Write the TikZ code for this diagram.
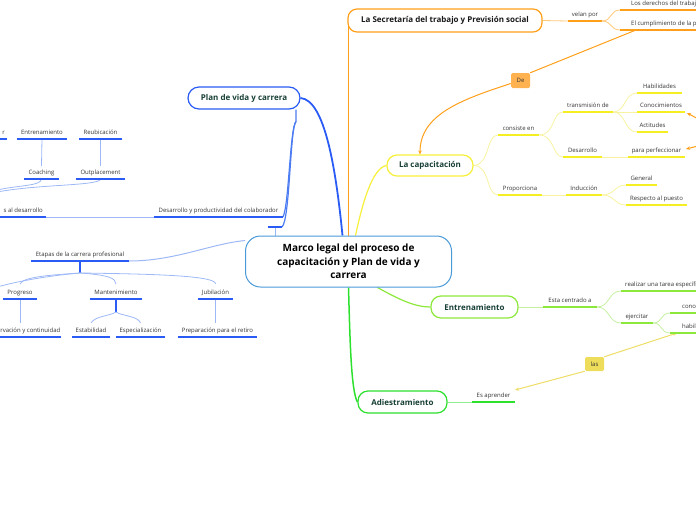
\documentclass[tikz,border=0pt]{standalone}
\usepackage{fontspec}
\setmainfont{Open Sans}
\usetikzlibrary{arrows.meta,calc}
\pgfdeclarelayer{bg}
\pgfsetlayers{bg,main}
\definecolor{blueA}{HTML}{2A5CF5}
\definecolor{blueM}{HTML}{4C7CF2}
\definecolor{blueL}{HTML}{9DB8F6}
\definecolor{cBorder}{HTML}{4A9AD8}
\definecolor{orA}{HTML}{FF9F1A}
\definecolor{orL}{HTML}{FFC978}
\definecolor{orFill}{HTML}{FFB24F}
\definecolor{yeA}{HTML}{F4EE22}
\definecolor{yeB}{HTML}{F6F03A}
\definecolor{yeL}{HTML}{F7F3A0}
\definecolor{yeFill}{HTML}{EEDD5A}
\definecolor{yeArr}{HTML}{EEDD66}
\definecolor{grE}{HTML}{8DE83C}
\definecolor{grEL}{HTML}{C5F0A0}
\definecolor{grA}{HTML}{2EE02E}
\definecolor{grAL}{HTML}{90EE90}
\definecolor{nodeTxt}{HTML}{173F35}
\definecolor{leafTxt}{HTML}{333333}
% centred leaf: name, x1, x2, y, text, colour
\newcommand\leaf[6]{%
  \coordinate (#1-l) at (#2,#4);
  \coordinate (#1-r) at (#3,#4);
  \coordinate (#1-c) at ({(#2+#3)/2},#4);
  \draw[ul,#6] (#1-l) -- (#1-r);
  \node[lt,anchor=base] (#1) at ({(#2+#3)/2},{#4-4.3}) {#5};}
% left aligned leaf (text starts at #7)
\newcommand\leafw[7]{%
  \coordinate (#1-l) at (#2,#4);
  \coordinate (#1-r) at (#3,#4);
  \coordinate (#1-c) at ({(#2+#3)/2},#4);
  \draw[ul,#6] (#1-l) -- (#1-r);
  \node[lt,anchor=base west] (#1) at (#7,{#4-4.3}) {#5};}
% right aligned leaf (text ends at #7)
\newcommand\leafe[7]{%
  \coordinate (#1-l) at (#2,#4);
  \coordinate (#1-r) at (#3,#4);
  \coordinate (#1-c) at ({(#2+#3)/2},#4);
  \draw[ul,#6] (#1-l) -- (#1-r);
  \node[lt,anchor=base east] (#1) at (#7,{#4-4.3}) {#5};}
\begin{document}
\begin{tikzpicture}[x=1pt,y=-1pt,
  lt/.style={font=\fontsize{6}{7}\selectfont,text=leafTxt,inner sep=0pt},
  ul/.style={line width=1.6pt},
  cn/.style={line width=0.8pt},
  topic/.style={draw,fill=white,rounded corners=10pt,line width=1.2pt,text=nodeTxt,
    font=\bfseries\fontsize{8}{9.5}\selectfont,inner sep=0pt},
  tag/.style={rounded corners=1.5pt,inner sep=0pt,font=\fontsize{6}{7}\selectfont,text=leafTxt},
  tip/.style={-{Stealth[length=4pt,width=3.5pt]}}
]
\useasboundingbox (0,0) rectangle (696,520);
\clip (0,0) rectangle (696,520);

% ---------- topics ----------
\node[topic,draw=cBorder,line width=1pt,rounded corners=15pt,minimum width=206pt,minimum height=51pt,
  align=center,text=black,font=\bfseries\fontsize{10}{13.5}\selectfont] (central) at (348.5,261.5)
  {Marco legal del proceso de\\capacitación y Plan de vida y\\carrera};
\node[topic,draw=orA,text=black!90,minimum width=194pt,minimum height=23pt,rounded corners=9pt] (sec) at (445,20.5)
  {La Secretaría del trabajo y Previsión social};
\node[topic,draw=blueA,minimum width=112pt,minimum height=22pt,rounded corners=11pt] (plan) at (244,98) {Plan de vida y carrera};
\node[topic,draw=yeB,minimum width=86pt,minimum height=21pt] (cap) at (430,165.5) {La capacitación};
\node[topic,draw=grE,minimum width=87pt,minimum height=22pt] (entr) at (474.5,307) {Entrenamiento};
\node[topic,draw=grA,minimum width=89pt,minimum height=22pt] (adi) at (402.5,402) {Adiestramiento};
\node[tag,fill=orFill,minimum width=19pt,minimum height=15pt] (de) at (520.5,80.5) {De};
\node[tag,fill=yeFill,minimum width=19pt,minimum height=14pt] (las) at (594.5,364) {las};

% ---------- blue leaves ----------
\leaf{dpc}{154}{283}{217}{Desarrollo y productividad del colaborador}{blueA}
\leafe{sad}{-5}{46}{217}{s al desarrollo}{blueA}{43}
\coordinate (blk-l) at (268,227);
\coordinate (blk-r) at (282,227);
\coordinate (blk-c) at (275,227);
\draw[ul,blueA] (blk-l) -- (blk-r);
\leaf{coach}{24}{59}{179}{Coaching}{blueA}
\leaf{outp}{76}{125}{179}{Outplacement}{blueA}
\leaf{ent2}{17}{67}{139}{Entrenamiento}{blueA}
\leaf{reub}{79}{122}{139}{Reubicación}{blueA}
\leafe{rr}{-5}{7}{139}{r}{blueA}{5}
\leaf{etap}{31}{129}{261}{Etapas de la carrera profesional}{blueA}
\leaf{prog}{3}{37}{299}{Progreso}{blueA}
\leaf{mant}{90}{142}{299}{Mantenimiento}{blueA}
\leaf{jub}{198}{233}{299}{Jubilación}{blueA}
\leafe{cyc}{-5}{61}{337}{rvación y continuidad}{blueA}{60.5}
\leaf{est}{72}{110}{337}{Estabilidad}{blueA}
\leaf{esp}{116}{165}{337}{Especialización}{blueA}
\leaf{prep}{178}{257}{337}{Preparación para el retiro}{blueA}

% ---------- orange leaves ----------
\leaf{velan}{568}{602}{21}{velan por}{orA}
\leafw{der}{620}{700}{10}{Los derechos del trabaj}{orA}{631}
\leafw{cum}{620}{700}{30}{El cumplimiento de la p}{orA}{631}
\coordinate (cum-a) at (636,30);

% ---------- yellow leaves ----------
\leaf{cin}{498}{539}{135}{consiste en}{yeA}
\leaf{prop}{498}{542}{195}{Proporciona}{yeA}
\leaf{trans}{563}{613}{112}{transmisión de}{yeA}
\leaf{desa}{563}{602}{157}{Desarrollo}{yeA}
\leaf{hab}{637}{682}{93}{Habilidades}{yeA}
\leaf{con}{637}{685}{112}{Conocimientos}{yeA}
\leaf{act}{637}{668}{132}{Actitudes}{yeA}
\leaf{perf}{628}{685}{157}{para perfeccionar}{yeA}
\leaf{ind}{566}{602}{195}{Inducción}{yeA}
\leaf{gen}{626}{657}{185}{General}{yeA}
\leaf{resp}{626}{687}{205}{Respecto al puesto}{yeA}

% ---------- green leaves ----------
\leaf{esta}{543}{597}{307}{Esta centrado a}{grE}
\leafw{real}{621}{700}{291}{realizar una tarea específi}{grE}{625}
\leaf{ejer}{621}{653}{323}{ejercitar}{grE}
\leafw{cono}{670}{700}{313}{cono}{grE}{682}
\leafw{habil}{670}{700}{333}{habil}{grE}{682}
\coordinate (habil-a) at (677,333);
\leaf{esa}{472}{515}{402}{Es aprender}{grA}

\coordinate (offA) at (-3,190);
\coordinate (offB) at (-3,192);
\coordinate (offC) at (-3,287);
\coordinate (oa1) at (702,121);
\coordinate (oa2) at (702,145);

\begin{pgfonlayer}{bg}
\clip (0,0) rectangle (696,520);
% main branches
\draw[blueA,line width=1.8pt] ([xshift=-6pt]central.north) .. controls (336,170) and (325,100) .. (plan.east);
\draw[orA,line width=1.5pt] (central.north) -- (central.north |- sec.west);
\draw[yeB,line width=1.2pt] ([xshift=7pt]central.north) .. controls (362,205) and (372,168) .. (cap.west);
\draw[grE,line width=1.2pt] ([xshift=29pt]central.south) .. controls (400,300) and (415,307) .. (entr.west);
\draw[grA,line width=1.5pt] (central.south) .. controls (350,340) and (351,390) .. (adi.west);
\draw[blueL,line width=1pt] (etap-r) .. controls (175,261) and (210,244) .. ([yshift=-5pt]central.north west);

% plan de vida
\draw[blueM,line width=1.2pt] ([xshift=52pt]plan.south) -- ++(0,12) coordinate (pk)
  .. controls (290,127) and (289,205) .. (dpc-r);
\draw[blueM,line width=1.2pt] (pk) .. controls (290,127) and (290,220) .. (blk-r);
\draw[blueL,line width=1pt] (blk-c) -- (blk-c |- central.north);
\draw[blueL,cn] (sad-r) -- (dpc-l);
\draw[blueL,cn] (ent2-c) -- ([yshift=4pt]coach.north);
\draw[blueL,cn] (reub-c) -- ([yshift=4pt]outp.north);
\draw[blueL,cn] (coach-c) .. controls (41,186) and (20,185) .. (offA);
\draw[blueL,cn] (outp-c) .. controls (99,186) and (40,184) .. (offB);

% etapas
\draw[blueA,line width=1.8pt] (etap-c) -- ++(0,12) coordinate (ek);
\draw[blueL,cn] (ek) .. controls (45,276) and (15,282) .. (offC);
\draw[blueL,cn] (ek) .. controls (50,275) and (22,277) .. ([yshift=6pt]prog.north);
\draw[blueL,cn] (ek) .. controls (108,275) and (116,278) .. ([yshift=6pt]mant.north);
\draw[blueL,cn] (ek) .. controls (160,274) and (216,276) .. ([yshift=6pt]jub.north);
\draw[blueL,line width=1pt] (prog-c) -- ($(prog-c |- cyc.north)+(0,-5)$);
\draw[blueA,line width=1.4pt] (mant-c) -- ++(0,13) coordinate (mk);
\draw[blueL,cn] (mk) .. controls (110,316) and (95,316) .. ([yshift=5pt]est.north);
\draw[blueL,cn] (mk) .. controls (122,316) and (138,316) .. ([yshift=5pt]esp.north);
\draw[blueL,line width=1pt] (jub-c) -- ($(jub-c |- prep.north)+(0,-5)$);

% orange
\draw[orL,cn] (sec.east) -- (velan-l);
\draw[orL,cn] (velan-r) .. controls (612,21) and (610,10) .. (der-l);
\draw[orL,cn] (velan-r) .. controls (612,21) and (610,30) .. (cum-l);
\draw[orA,line width=1pt] (cum-a) -- (de.north east);
\draw[orA,line width=1pt,tip] ([yshift=-3pt]de.west) .. controls (460,100) and (420,115) .. ([xshift=-10pt]cap.north);
\draw[orA,line width=1pt,tip] (oa1) -- ([xshift=2pt,yshift=-1pt]con-r);
\draw[orA,line width=1pt,tip] (oa2) -- ([xshift=1pt,yshift=8pt]perf-r);

% yellow
\draw[yeL,cn] (cap.east) .. controls (490,165) and (486,135) .. (cin-l);
\draw[yeL,cn] (cap.east) .. controls (490,165) and (486,195) .. (prop-l);
\draw[yeL,cn] (cin-r) .. controls (555,135) and (552,112) .. (trans-l);
\draw[yeL,cn] (cin-r) .. controls (555,135) and (552,157) .. (desa-l);
\draw[yeL,cn] (trans-r) .. controls (626,112) and (624,93) .. (hab-l);
\draw[yeL,cn] (trans-r) -- (con-l);
\draw[yeL,cn] (trans-r) .. controls (626,112) and (624,132) .. (act-l);
\draw[yeL,cn] (desa-r) -- (perf-l);
\draw[yeL,cn] (prop-r) -- (ind-l);
\draw[yeL,cn] (ind-r) .. controls (615,195) and (614,185) .. (gen-l);
\draw[yeL,cn] (ind-r) .. controls (615,195) and (614,205) .. (resp-l);

% green
\draw[grEL,cn] (entr.east) -- (esta-l);
\draw[grEL,cn] (esta-r) .. controls (610,307) and (608,291) .. (real-l);
\draw[grEL,cn] (esta-r) .. controls (610,307) and (608,323) .. (ejer-l);
\draw[grEL,cn] (ejer-r) .. controls (663,323) and (660,313) .. (cono-l);
\draw[grEL,cn] (ejer-r) .. controls (663,323) and (660,333) .. (habil-l);
\draw[yeArr,line width=1pt,tip] (las.north east) -- (habil-a);
\draw[yeArr,line width=1pt,tip] (las.south west) -- ($(esa-r)+(0,-12)$);
\draw[grAL,cn] (adi.east) -- (esa-l);
\end{pgfonlayer}
\end{tikzpicture}
\end{document}
